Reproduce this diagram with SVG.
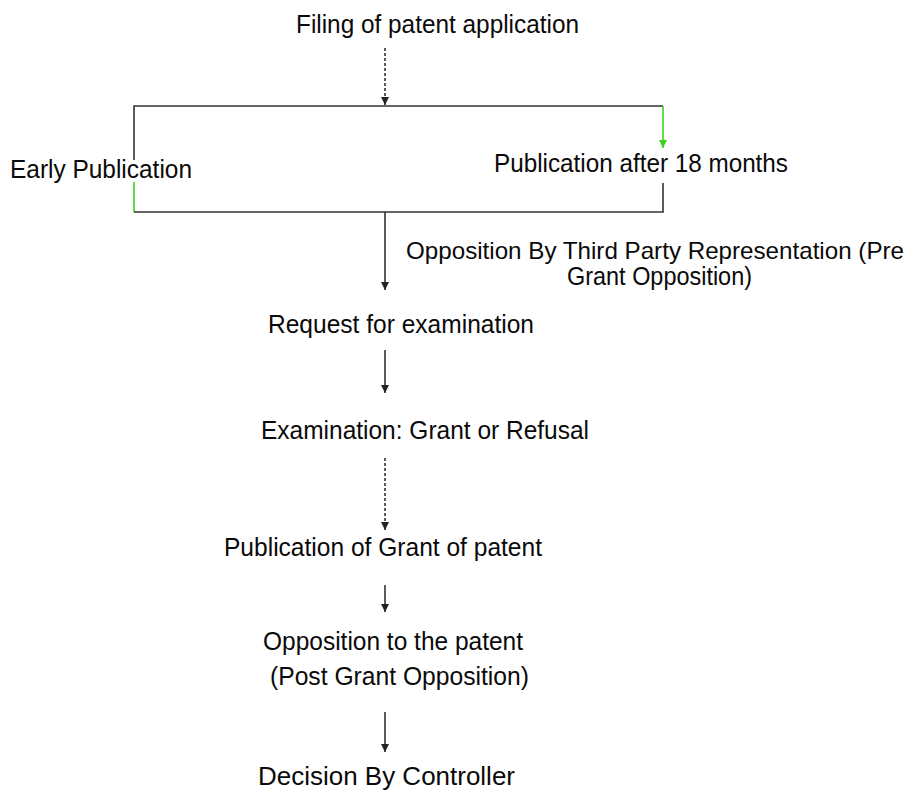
<svg xmlns="http://www.w3.org/2000/svg" width="911" height="790" viewBox="0 0 911 790">
<style>
text{font-family:"Liberation Sans",Arial,sans-serif;font-size:25px;fill:#0a0a0a;}
text.sm{font-size:24px;}
.ln{stroke:#333;stroke-width:1.6;fill:none;}
.dash{stroke-dasharray:3 2;}
.gr{stroke:#3ad41c;stroke-width:1.6;fill:none;}
</style>
<defs>
<marker id="ah" viewBox="0 0 8 10" refX="8" refY="5" markerWidth="8" markerHeight="10" markerUnits="userSpaceOnUse" orient="auto"><path d="M0,1 L8,5 L0,9 Z" fill="#222"/></marker>
<marker id="ahg" viewBox="0 0 8 10" refX="8" refY="5" markerWidth="8" markerHeight="10" markerUnits="userSpaceOnUse" orient="auto"><path d="M0,1 L8,5 L0,9 Z" fill="#3ad41c"/></marker>
</defs>
<rect width="911" height="790" fill="#fff"/>
<g id="connectors">
<line class="ln dash" x1="385" y1="48" x2="385" y2="105" marker-end="url(#ah)"/>
<polyline class="ln" points="134,160 134,106 663,106"/>
<polyline class="gr" points="663,106 663,148" marker-end="url(#ahg)"/>
<line class="gr" x1="134" y1="182" x2="134" y2="212"/>
<polyline class="ln" points="134,212 663,212 663,183"/>
<line class="ln" x1="385" y1="212" x2="385" y2="290" marker-end="url(#ah)"/>
<line class="ln" x1="385" y1="350" x2="385" y2="393" marker-end="url(#ah)"/>
<line class="ln dash" x1="385" y1="458" x2="385" y2="530" marker-end="url(#ah)"/>
<line class="ln" x1="385" y1="585" x2="385" y2="612" marker-end="url(#ah)"/>
<line class="ln" x1="385" y1="712" x2="385" y2="752" marker-end="url(#ah)"/>
</g>
<g id="filing"><text x="296" y="33" textLength="283" lengthAdjust="spacingAndGlyphs">Filing of patent application</text></g>
<g id="early"><text x="10" y="178" textLength="182" lengthAdjust="spacingAndGlyphs">Early Publication</text></g>
<g id="after18"><text x="494" y="172" textLength="294" lengthAdjust="spacingAndGlyphs">Publication after 18 months</text></g>
<g id="pregrant"><text class="sm" x="406" y="259" textLength="498" lengthAdjust="spacingAndGlyphs">Opposition By Third Party Representation (Pre</text><text x="567" y="285" textLength="185" lengthAdjust="spacingAndGlyphs">Grant Opposition)</text></g>
<g id="request"><text x="268" y="333" textLength="266" lengthAdjust="spacingAndGlyphs">Request for examination</text></g>
<g id="exam"><text x="261" y="439" textLength="328" lengthAdjust="spacingAndGlyphs">Examination: Grant or Refusal</text></g>
<g id="pubgrant"><text x="224" y="556" textLength="318" lengthAdjust="spacingAndGlyphs">Publication of Grant of patent</text></g>
<g id="postgrant"><text x="263" y="650" textLength="260" lengthAdjust="spacingAndGlyphs">Opposition to the patent</text><text x="270" y="685" textLength="259" lengthAdjust="spacingAndGlyphs">(Post Grant Opposition)</text></g>
<g id="decision"><text x="258" y="785" textLength="257" lengthAdjust="spacingAndGlyphs">Decision By Controller</text></g>
</svg>
